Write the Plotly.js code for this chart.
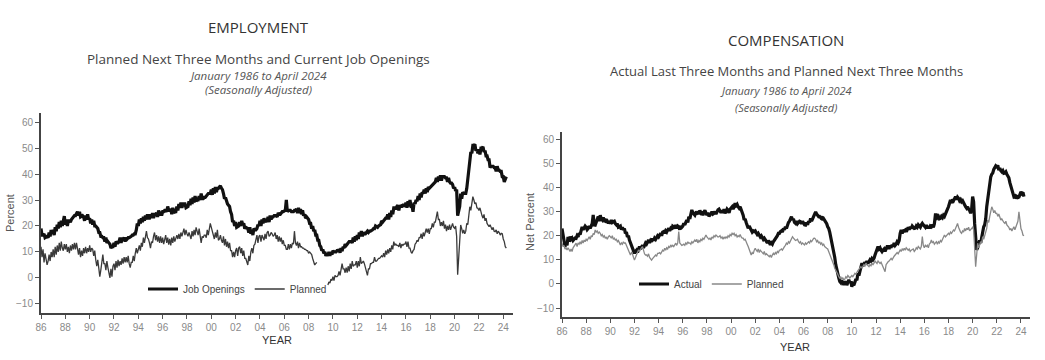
<!DOCTYPE html>
<html>
<head>
<meta charset="utf-8">
<script src="https://cdn.plot.ly/plotly-3.0.1.min.js"></script>
<style>
  html, body { margin: 0; padding: 0; background: #fff; }
  #chart { width: 1045px; height: 360px; }
</style>
</head>
<body>
<div id="chart"></div>
<script>
// ---------- DATA (monthly, January 1986 to April 2024) ----------
const startYear = 1986;

const tickYears = [1986, 1988, 1990, 1992, 1994, 1996, 1998, 2000, 2002, 2004, 2006, 2008, 2010, 2012, 2014, 2016, 2018, 2020, 2022, 2024];
const tickLabels = ['86', '88', '90', '92', '94', '96', '98', '00', '02', '04', '06', '08', '10', '12', '14', '16', '18', '20', '22', '24'];
const yTicks = [-10, 0, 10, 20, 30, 40, 50, 60];

// Employment: current job openings (percent)
const jobOpenings = [
  19, 16.5, 16.5, 17, 15.5, 16, 16, 15.5, 17.5, 16, 18.5, 17,            // 1986
  18.5, 16.5, 19.5, 18, 20.5, 19, 21.5, 19.5, 22, 20, 22.5, 23.8,        // 1987
  20.5, 22.5, 20, 22, 22, 21.5, 22.5, 23, 23.5, 24, 24, 24.5,            // 1988
  25.5, 24, 25.5, 23.5, 24, 24, 23.5, 22, 24, 22.5, 24.5, 22.5,          // 1989
  23, 21, 22.5, 20.5, 22, 20, 20, 19.5, 19, 17.5, 17.5, 16,              // 1990
  16, 15.5, 15.5, 14, 15.5, 13.5, 14, 13.5, 13, 11.5, 12, 12,            // 1991
  13.5, 12, 14, 13.5, 13.5, 14, 15.5, 13.5, 15, 15, 15.5, 14,            // 1992
  15.5, 15, 15.5, 15.5, 16, 16, 16.5, 16.5, 17, 17, 18.5, 21,            // 1993
  20, 22.5, 21, 23, 21.5, 23.5, 22, 24, 22.5, 24.5, 23, 23,              // 1994
  24.5, 23, 25, 23, 24.5, 24.5, 25, 23.5, 26, 24, 25.5, 24,              // 1995
  25.5, 25.5, 26, 26, 25.5, 27.5, 26, 26, 26.5, 24.5, 27, 25,            // 1996
  25.5, 25.5, 27.5, 26, 28.5, 27, 29, 27, 28.5, 28.5, 28.5, 27,          // 1997
  27.5, 27.5, 29.5, 28, 30.5, 28.5, 31, 29, 31.5, 29.5, 30, 30,          // 1998
  31.5, 30, 32.5, 30.5, 30.5, 31, 31, 31.5, 32, 32.5, 32.5, 32.5,        // 1999
  34, 32, 34.5, 32.5, 35, 33, 34.5, 34.5, 35, 35.5, 34.5, 34,            // 2000
  32.5, 30.5, 31, 29, 28.5, 28, 27.5, 25.5, 24.5, 21.5, 22, 20,          // 2001
  21.5, 19.5, 20, 20, 21.5, 20, 22, 20.5, 21, 19, 19.5, 19,              // 2002
  19, 17.5, 19.5, 17, 18.5, 16.5, 19, 18.5, 18.5, 19, 20.5, 20,          // 2003
  22, 20, 22.5, 21, 23, 21.5, 22, 22, 23.5, 21.5, 24, 22.5,              // 2004
  23.5, 23.5, 24, 24, 24, 23.5, 25, 24.5, 24.5, 25, 25.5, 25.5,          // 2005
  26, 26, 30, 25.5, 26, 26, 26, 25.5, 25.5, 25.5, 26, 26,                // 2006
  26.5, 25, 27, 25, 26.5, 24.5, 26, 24, 24.5, 23, 23.5, 23,              // 2007
  22.5, 21, 21, 19, 20, 18, 18.5, 16.5, 16.5, 14.5, 14.5, 12.5,          // 2008
  12, 10.5, 11, 9.5, 10, 8.5, 9.5, 8.5, 10, 8.5, 10, 9,                  // 2009
  10.5, 10, 10, 10, 10.5, 10.5, 11, 9.7, 11.5, 10.3, 12, 11.5,           // 2010
  13, 12.5, 13, 13.5, 14, 14, 14, 13.5, 15.5, 14, 16, 14.5,              // 2011
  16.5, 15, 17.5, 16, 18, 16, 17.5, 17, 17, 17.5, 18, 17.5,              // 2012
  18, 18, 18.5, 18.5, 19, 19, 20, 19.5, 19.5, 20, 20.5, 20.5,            // 2013
  22, 21.5, 22, 22.5, 23, 23, 24.5, 22.5, 25, 23.5, 26, 24.5,            // 2014
  27, 27, 26.5, 27.5, 28, 26, 28, 27.5, 27.5, 28, 28, 27.5,              // 2015
  29, 27, 29.5, 27.5, 30, 27.5, 27.5, 25.5, 29, 28.5, 30, 29.5,          // 2016
  31.5, 30, 32.5, 31, 33, 32.5, 34, 32.5, 34.5, 33, 35, 34.5,            // 2017
  35, 35, 35.5, 36, 36.5, 37, 38.5, 37, 39, 37.5, 39.5, 37.5,            // 2018
  39, 39, 39, 38.5, 38.5, 37, 38.5, 37, 36.5, 36.5, 36, 34.5,            // 2019
  35, 33.5, 34, 24, 26.5, 27.5, 32.5, 30.5, 33, 32.5, 32.5, 32.5,        // 2020
  34.5, 37.5, 41.5, 43.5, 48.5, 48, 51, 51, 51.5, 49, 49.5, 48,          // 2021
  49.5, 47.5, 50, 50, 50.5, 48.5, 49, 47, 47, 45.5, 45.5, 42.5,          // 2022
  43, 43, 43, 42.5, 42.5, 41, 43, 41.5, 41.5, 41, 41, 39,                // 2023
  39, 37, 38.5, 39                                                       // 2024
];

// Employment: planned next three months (net percent), gap late 2008 to mid 2009
const plannedHiring = [
  12, 8, 11, 6, 9.5, 7, 5, 6.5, 9, 6.5, 10, 8,                           // 1986
  11, 8, 12, 9, 12.5, 10, 13.5, 10.5, 14, 11.5, 10.5, 13,                // 1987
  11, 13, 10, 12, 9.5, 12.5, 10.5, 13, 11, 13.5, 11, 13.5,               // 1988
  11, 9, 11.5, 8, 10.5, 8.5, 11.5, 9.5, 12, 9.5, 11.5, 10,               // 1989
  12.5, 10, 11.5, 11, 8.5, 10.5, 7, 4.5, 7, 2.5, 0.5, 3,                 // 1990
  6.5, 9, 5.5, 5.5, 3, 6.5, 4, 1.5, 0, 3.5, 0.5, 4.5,                    // 1991
  5.5, 3, 6.5, 4, 7, 4.5, 6.5, 5, 7.5, 5.5, 8, 6,                        // 1992
  8, 6, 8.5, 5.5, 4, 6, 6, 8.5, 6.5, 9.5, 11.5, 9.5,                     // 1993
  11.5, 12.5, 10.5, 13.5, 12, 15.5, 13.5, 16.5, 18, 15.5, 15, 13.5,      // 1994
  11.5, 14, 13.5, 16, 17.5, 14.5, 16.5, 14, 16, 13.5, 16, 13.5,          // 1995
  15.5, 13, 15, 16.5, 13.5, 15.5, 12.8, 15, 12.5, 15.5, 13.5, 16,        // 1996
  14, 15.5, 16.5, 15, 17, 15, 17.5, 16, 18, 19, 16.5, 18.5,              // 1997
  17, 16, 17.5, 16, 15, 18, 16, 18.5, 16.5, 19.5, 17.5, 16.5,            // 1998
  19, 15.5, 13.5, 16, 15.5, 16.5, 16.5, 15.5, 18.5, 16.5, 19.5, 21,      // 1999
  19.5, 18, 16.5, 15, 17.5, 15.5, 18.5, 14.5, 15, 16.5, 14.5, 13.5,      // 2000
  16, 12.5, 15, 12, 14, 11.5, 13.5, 10.5, 10.5, 8, 10, 8,                // 2001
  10.5, 11.5, 8.5, 11.5, 12, 9.5, 11.5, 8.5, 10.5, 7.5, 7.5, 6,          // 2002
  5, 8.5, 6.5, 10, 11.5, 9.5, 12.5, 13, 15.5, 16.5, 13.5, 16,            // 2003
  16.5, 14, 16.5, 15, 14.5, 17, 15, 17.5, 18, 16, 16.5, 17.5,            // 2004
  17, 16, 16.5, 17.5, 15, 16.5, 14, 16, 14, 15.5, 13, 14.5,              // 2005
  12.5, 12.5, 11, 11, 13, 11, 13, 11.5, 13.5, 13, 18, 13.5,              // 2006
  12.5, 14, 11.5, 13.5, 12, 12, 11.5, 11.5, 11, 11, 10.5, 10.5,          // 2007
  9.5, 10, 9.5, 9, 7.5, 6.5, 5, 5.5, 6, null, null, null,                // 2008
  null, null, null, null, null, null, null, -2.7, -1.5, -2, -0.5, -1,    // 2009
  0.5, -1, 1, 0.5, 0.5, 1, 2.5, 1, 3.5, 5.5, 3.5, 3.5,                   // 2010
  2, 4, 2, 4.5, 2.5, 5.5, 3.5, 6.5, 4.5, 5, 5, 6.5,                      // 2011
  4, 6.5, 4.5, 8, 5.5, 6, 6.5, 5.5, 3.5, 3, 1, 3.5,                      // 2012
  3.5, 5.5, 5.5, 6, 6, 8, 6.5, 6.5, 7, 7.5, 7.5, 8,                      // 2013
  8.5, 8, 9.5, 8, 10.5, 9, 11, 9.5, 11.5, 10, 12.5, 11,                  // 2014
  14, 12.5, 13, 12.5, 12.5, 12, 13.5, 11.5, 13, 12.5, 13, 13,            // 2015
  14, 12, 14, 11.5, 11.5, 10, 9.5, 10.5, 11, 13, 13.5, 14.5,             // 2016
  14, 15.5, 15.5, 17, 15, 17.5, 16, 17.5, 19, 17.5, 19, 17,              // 2017
  19, 19, 21, 19.5, 21.5, 21.5, 24.5, 25.5, 22.5, 22.5, 20, 21.5,        // 2018
  20, 22, 19, 20.5, 18, 20, 18.5, 20.5, 18.5, 20, 21, 19.5,              // 2019
  19.1, 20, 16, 1.2, 9, 18, 20.4, 19, 17.2, 18.5, 17, 18,                // 2020
  21, 20.5, 24, 27.4, 26, 29, 31.3, 30, 28.5, 29, 27, 26.8,              // 2021
  26, 27, 25, 24, 23, 24.5, 22, 23, 21, 20, 19.7, 20.5,                  // 2022
  19, 18.5, 19.5, 18, 17.8, 18.5, 17, 18, 17.5, 16.5, 17.2, 17,          // 2023
  15, 14, 12, 11.5                                                       // 2024
];

// Compensation: actual last three months (net percent)
const actualComp = [
  23, 21, 18, 15.5, 17, 16, 19.5, 17.5, 19.6, 18.5, 19, 18,              // 1986
  18.5, 19, 18.9, 20, 19.5, 21, 20.5, 22, 23.7, 22.5, 23, 24,            // 1987
  23.5, 22.5, 23, 24, 23.1, 24, 25, 28.6, 24.5, 24.4, 25.5, 26,          // 1988
  27.9, 26, 28.5, 27, 26.5, 27.5, 26.5, 27, 25.5, 26, 25.1, 26,          // 1989
  25, 26.5, 25.5, 25.8, 26, 25, 24.5, 25, 23.5, 23.7, 24, 22.5,          // 1990
  23.5, 22.4, 23, 21, 21.5, 19.5, 20, 18.2, 17, 16, 14.5, 13.5,          // 1991
  12.7, 13.5, 14, 13, 14.8, 15.5, 14.5, 15.5, 16, 15, 16.2, 17,          // 1992
  16.5, 17.5, 18.2, 17, 18, 17.5, 18.9, 18, 19, 18.5, 19.5, 20,          // 1993
  19.5, 20.3, 21, 20, 21.5, 21.7, 21, 22, 21.5, 22.4, 23, 22,            // 1994
  23, 22.5, 24, 23.7, 23, 24.5, 23, 24, 23.7, 22.5, 24, 23.5,            // 1995
  24, 25.1, 24.5, 25.5, 26.5, 25.5, 27.9, 27, 28.5, 30.7, 29.5, 29,      // 1996
  28.5, 29.5, 29.3, 30, 29, 30.5, 29.5, 30, 28.5, 29.9, 30.5, 29.5,      // 1997
  28.5, 29.5, 28, 28.6, 29, 30, 29, 29.3, 30, 29, 30, 30.7,              // 1998
  31, 30, 29.5, 30.5, 29.5, 31, 29.3, 30, 31, 30.5, 29.5, 31,            // 1999
  31.4, 32, 31, 32.5, 33.4, 32.5, 33, 32, 31.4, 32, 31, 30,              // 2000
  28.5, 26.5, 27, 25.5, 24.5, 23.1, 24, 23, 22.5, 21.5, 22, 21.7,        // 2001
  22, 21, 20.5, 21, 20.3, 19.5, 20, 19, 18.5, 19, 18.2, 17.5,            // 2002
  17, 18, 17, 16.2, 17, 16.5, 17.5, 18, 18.9, 19.5, 20, 21,              // 2003
  21, 21.7, 22, 21.5, 23, 22.5, 23.7, 23, 24.5, 25.5, 26, 27,            // 2004
  27.9, 26.5, 27, 25.5, 25.1, 26, 25, 25.5, 26, 25.8, 25, 26,            // 2005
  25, 24.5, 24.4, 25.5, 24.5, 26, 25.5, 27.2, 26, 27, 28.5, 29.5,        // 2006
  29.9, 29, 28.5, 27.9, 28, 27.5, 28, 26.5, 27, 26.5, 25.5, 25,          // 2007
  23.7, 23, 21.5, 19.6, 18, 16, 12.7, 11, 8, 5.8, 4, 2.5,                // 2008
  1, 0.5, 1.5, 0, -0.4, 0.5, 1, -0.5, 0.5, 1.7, 0.5, 1,                  // 2009
  -1.1, 0, -0.5, 1, 2, 1.5, 4.4, 3.5, 5, 6.5, 8.6, 7.5,                  // 2010
  8.5, 9, 8, 9.5, 8.5, 9.2, 10, 9.5, 10.5, 10, 10.6, 12,                 // 2011
  13, 14, 15.5, 14.5, 15, 14, 13.4, 14, 14.5, 13.5, 15, 15.5,            // 2012
  15.5, 14.5, 16, 15, 16.2, 15.5, 17, 16, 16.5, 17.5, 17, 18,            // 2013
  21, 22.4, 21, 22, 22.4, 21.5, 23, 22.5, 23.5, 22.5, 23.7, 23,          // 2014
  24, 23.5, 23, 23.1, 24, 23.5, 24.5, 24, 23.5, 24.5, 25.1, 24.5,        // 2015
  24, 23.5, 24.5, 23.1, 24, 23, 24, 23.7, 24.5, 23.5, 25, 28.6,          // 2016
  28.6, 27.5, 28, 27, 27.2, 28, 27.5, 28.5, 28, 29.3, 30, 31,            // 2017
  32, 33.5, 34.8, 33.5, 35, 34.5, 35.5, 36.2, 35, 36, 35.5, 34.5,        // 2018
  35, 34.1, 34.5, 33.5, 33, 32, 31.4, 32, 31, 30.5, 29.3, 31,            // 2019
  36.2, 34, 25, 18.2, 14.1, 15, 16.9, 18, 17, 20, 21, 23.7,              // 2020
  24.5, 27, 32, 35, 40.3, 42, 44.4, 45.5, 46, 47.5, 48.6, 49,            // 2021
  48.6, 49.2, 47.2, 48, 47, 46.5, 47, 45.9, 46, 46.5, 45.5, 45,          // 2022
  44, 42, 40.3, 39, 37.5, 36.2, 36.5, 35.5, 36.2, 35.8, 36, 37,          // 2023
  38.2, 37.5, 38, 36.2                                                   // 2024
];

// Compensation: planned next three months (net percent)
const plannedComp = [
  16.9, 15.5, 16, 14.5, 15, 14.1, 15, 14, 13.5, 14.5, 13.4, 15,          // 1986
  15.5, 16, 16.9, 15.5, 17, 16.5, 17.5, 16.5, 18, 17, 18.2, 17.5,        // 1987
  18.5, 18, 19, 19.6, 18.5, 20, 19.5, 21, 20.5, 22.4, 21.5, 22,          // 1988
  21, 21.5, 21, 20, 20.5, 19.5, 20, 18.9, 19.5, 18.5, 19.5, 20,          // 1989
  19.6, 19, 20, 18.5, 19, 18.2, 18.5, 17.5, 18, 17, 16.2, 17,            // 1990
  16.5, 17.5, 16.9, 17, 16, 15, 14.5, 13.5, 12, 13, 12.5, 11,            // 1991
  9.9, 11, 12, 13, 14.1, 13.5, 14.5, 15, 15.5, 13.5, 12.5, 12,           // 1992
  12, 11.5, 12.5, 11, 10.5, 9.9, 10.5, 11, 11.5, 12, 11.5, 12.7,         // 1993
  12.7, 13, 12.5, 13.5, 14, 13.5, 14.8, 14, 15, 14.5, 15.5, 15,          // 1994
  16.2, 15.5, 16, 15.5, 16.5, 16.9, 16, 17, 21.7, 17, 16.5, 16,          // 1995
  16.2, 16.5, 16, 17, 16.5, 17.5, 16.9, 17, 16.5, 17.5, 17, 18,          // 1996
  18.2, 17.5, 18.5, 17, 18, 17.5, 18.5, 18, 19, 18.5, 19.5, 20.3,        // 1997
  19.5, 19, 18.5, 19, 18.2, 19.5, 19, 20, 19.5, 20.3, 20, 19.5,          // 1998
  19.6, 20, 19, 19.5, 18.5, 19.5, 18.9, 19.5, 19, 20, 19.5, 20.5,        // 1999
  20, 21, 20.5, 21, 20, 20.5, 19.5, 20, 19.6, 20.5, 19.5, 19,            // 2000
  19, 18.2, 18.5, 17, 16.5, 15.5, 14.5, 13.5, 12, 13, 12.5, 14,          // 2001
  14.8, 14, 13.5, 14.5, 13, 14, 13.4, 13, 12.5, 13.5, 12, 12.5,          // 2002
  12, 11.5, 11.3, 12, 11, 12, 12.7, 12, 13, 12.5, 13.5, 13,              // 2003
  14, 14.1, 14.5, 14, 15, 15.5, 16, 16.9, 16.5, 17.5, 17, 18,            // 2004
  18.5, 19.6, 19, 18.5, 18, 18.2, 18.5, 17.5, 17, 17.5, 16.5, 17,        // 2005
  16.5, 16.2, 17, 16.5, 17, 17.5, 17, 18, 17.5, 18.5, 18.9, 19,          // 2006
  18.5, 17.5, 18, 16.9, 17.5, 16.5, 17, 16, 16.5, 15.5, 15, 14.8,        // 2007
  14.5, 13.5, 12.5, 11, 9.9, 9, 8, 6.5, 5.8, 5, 4, 3,                    // 2008
  2.4, 3, 2, 2.5, 1.7, 2, 3, 2.5, 3.5, 3, 2.5, 3,                        // 2009
  3.5, 3, 4, 4.4, 4, 5, 5.5, 6, 6.5, 7.2, 6.5, 7.5,                      // 2010
  8, 7.5, 8.6, 8, 7.5, 7.2, 8, 7.5, 8.5, 8, 8.6, 9.5,                    // 2011
  9, 8.5, 9.5, 9, 8.5, 9, 8, 7.5, 6.5, 5.1, 8, 9,                        // 2012
  9.2, 9.5, 10, 10.6, 10, 11, 11.5, 12, 12.5, 13, 12.5, 13.5,            // 2013
  14.1, 13.5, 14.5, 14, 14.8, 14, 15, 14.5, 14, 14.5, 13.5, 14,          // 2014
  14.1, 14.5, 13.5, 14, 15, 14.5, 15.5, 15, 14.5, 15.5, 19.6, 16,        // 2015
  15, 16, 15.5, 16, 15, 16.5, 17, 18.2, 17, 17.5, 16.5, 17,              // 2016
  17.5, 16.5, 17.5, 17, 18, 17.5, 18.5, 19, 20.3, 19.5, 20, 20.5,        // 2017
  21, 20.5, 21.5, 21, 22, 22.4, 22, 23, 24, 25.1, 23.5, 22,              // 2018
  21.5, 21, 22, 21.5, 23, 22, 23.1, 22.5, 23.5, 22, 22.4, 23,            // 2019
  23.5, 22.4, 15, 7.2, 12, 16.9, 15, 16, 17.5, 17, 19.6, 18.5,           // 2020
  20, 21.5, 23, 26.5, 25.5, 28, 30, 32, 31, 29.5, 30.5, 29.3,            // 2021
  29.3, 28, 29, 27.5, 26.5, 27, 26, 25.5, 25.1, 26, 24.5, 24,            // 2022
  23.5, 22.4, 23, 22, 23, 23.7, 22.5, 23.5, 24.5, 26, 29.9, 26,          // 2023
  23, 22, 20.3, 20                                                       // 2024
];

// ---------- BUILD ----------
function monthDates(n) {
  const d = [];
  for (let i = 0; i < n; i++) d.push(startYear + i / 12);
  return d;
}

const tickFont = { family: 'Liberation Sans, Arial, sans-serif', size: 10, color: '#8a8a8a' };

function xAxis(domain, range, anchor) {
  return {
    domain: domain, range: range, anchor: anchor,
    tickmode: 'array', tickvals: tickYears, ticktext: tickLabels,
    showline: true, linecolor: '#444', linewidth: 2,
    ticks: 'outside', ticklen: 4, tickcolor: '#555', tickwidth: 1,
    showgrid: false, zeroline: false, tickfont: tickFont, fixedrange: true
  };
}
function yAxis(domain, range, anchor) {
  return {
    domain: domain, range: range, anchor: anchor,
    tickmode: 'array', tickvals: yTicks,
    showline: true, linecolor: '#444', linewidth: 2,
    ticks: 'outside', ticklen: 4, tickcolor: '#555', tickwidth: 1,
    showgrid: false, zeroline: false, tickfont: tickFont, fixedrange: true
  };
}

const traces = [
  { x: monthDates(jobOpenings.length), y: jobOpenings, type: 'scatter', mode: 'lines',
    name: 'Job Openings', xaxis: 'x', yaxis: 'y', legend: 'legend',
    line: { color: '#111', width: 3.2 }, connectgaps: false },
  { x: monthDates(plannedHiring.length), y: plannedHiring, type: 'scatter', mode: 'lines',
    name: 'Planned', xaxis: 'x', yaxis: 'y', legend: 'legend',
    line: { color: '#3a3a3a', width: 1.3 }, connectgaps: false },
  { x: monthDates(actualComp.length), y: actualComp, type: 'scatter', mode: 'lines',
    name: 'Actual', xaxis: 'x2', yaxis: 'y2', legend: 'legend2',
    line: { color: '#111', width: 3.2 } },
  { x: monthDates(plannedComp.length), y: plannedComp, type: 'scatter', mode: 'lines',
    name: 'Planned', xaxis: 'x2', yaxis: 'y2', legend: 'legend2',
    line: { color: '#888', width: 1.3 } }
];

const W = 1045, H = 360;
const px = v => v / W;
const py = v => (H - v) / H;

function ann(text, x, y, size, color, extra) {
  return Object.assign({
    text: text, xref: 'paper', yref: 'paper', x: x, y: y,
    xanchor: 'center', yanchor: 'middle', showarrow: false,
    font: { family: 'Open Sans, sans-serif', size: size, color: color }
  }, extra || {});
}
const sansFont = (size, color) => ({ font: { family: 'Liberation Sans, Arial, sans-serif', size: size, color: color } });

const annotations = [
  ann('EMPLOYMENT', px(258), py(27), 15, '#333'),
  ann('Planned Next Three Months and Current Job Openings', px(258), py(59), 13.5, '#444'),
  ann('<i>January 1986 to April 2024</i>', px(258), py(75), 11.5, '#555'),
  ann('<i>(Seasonally Adjusted)</i>', px(258), py(89), 11.5, '#555'),
  ann('COMPENSATION', px(786), py(40), 15, '#333'),
  ann('Actual Last Three Months and Planned Next Three Months', px(786), py(71), 13, '#444'),
  ann('<i>January 1986 to April 2024</i>', px(786), py(90), 11, '#555'),
  ann('<i>(Seasonally Adjusted)</i>', px(786), py(107), 11, '#555'),
  ann('YEAR', px(277), py(340), 11, '#333', sansFont(11, '#333')),
  ann('YEAR', px(795), py(347), 11, '#333', sansFont(11, '#333')),
  ann('Percent', px(10), py(213), 11, '#555', Object.assign({ textangle: -90 }, sansFont(11, '#555'))),
  ann('Net Percent', px(530), py(222), 11, '#555', Object.assign({ textangle: -90 }, sansFont(11, '#555')))
];

const legendFont = { family: 'Liberation Sans, Arial, sans-serif', size: 10, color: '#444' };

const layout = {
  width: W, height: H,
  margin: { l: 0, r: 0, t: 0, b: 0 },
  paper_bgcolor: '#fff', plot_bgcolor: '#fff',
  showlegend: true,
  xaxis: xAxis([px(41), px(513)], [1986, 2024.8], 'y'),
  yaxis: yAxis([py(313), py(113)], [-13.5, 63.5], 'x'),
  xaxis2: xAxis([px(562), px(1030)], [1986, 2024.75], 'y2'),
  yaxis2: yAxis([py(317), py(132)], [-13.7, 63], 'x2'),
  legend: {
    orientation: 'h', x: px(143), y: py(289), xanchor: 'left', yanchor: 'middle',
    font: legendFont, bgcolor: 'rgba(0,0,0,0)', borderwidth: 0, tracegroupgap: 0
  },
  legend2: {
    orientation: 'h', x: px(634), y: py(284), xanchor: 'left', yanchor: 'middle',
    font: legendFont, bgcolor: 'rgba(0,0,0,0)', borderwidth: 0, tracegroupgap: 0
  },
  annotations: annotations
};

Plotly.newPlot('chart', traces, layout, { staticPlot: true, displayModeBar: false });
</script>
</body>
</html>
